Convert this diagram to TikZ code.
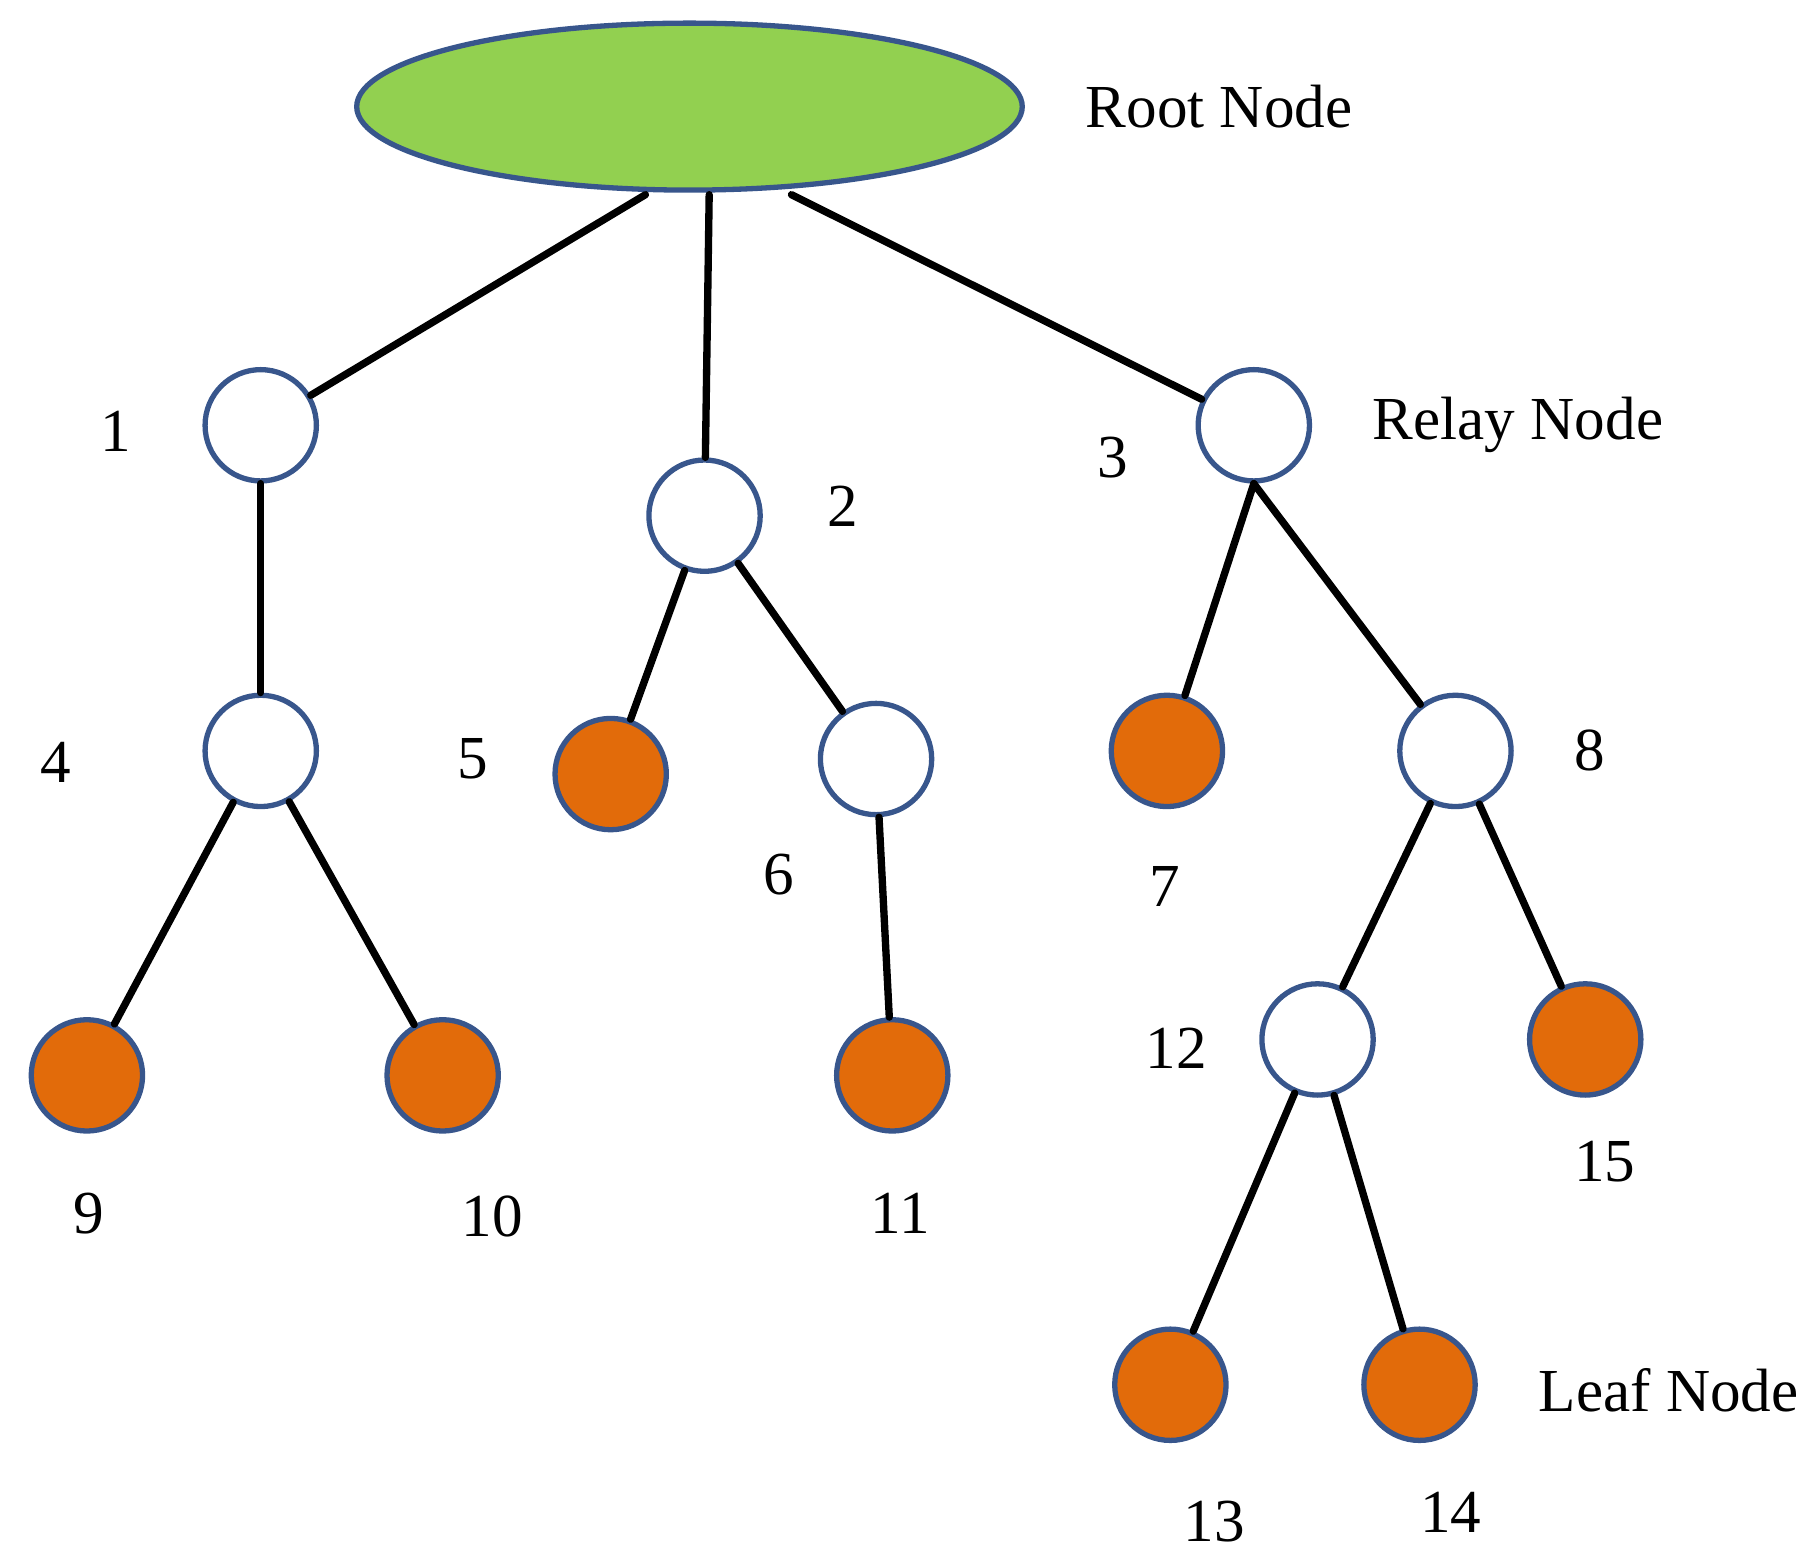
\documentclass[tikz,border=0pt]{standalone}
\usepackage{fontspec}
\setmainfont{Liberation Serif}
\usetikzlibrary{shapes.geometric}
\definecolor{rootgreen}{RGB}{146,208,80}
\definecolor{leaforange}{RGB}{226,107,10}
\definecolor{rimblue}{RGB}{56,86,140}
\begin{document}
\begin{tikzpicture}[x=0.01cm, y=-0.01cm, line cap=round, line join=round,
    font=\fontsize{15}{18}\selectfont,
    relay/.style={circle, draw=rimblue, line width=1.3pt, fill=white, minimum size=0.96cm, inner sep=0pt},
    leaf/.style={relay, fill=leaforange},
    edge/.style={line width=1.8pt}]
    \useasboundingbox (0,0) rectangle (1568,1351);

    % root
    \node[ellipse, draw=rimblue, line width=1.3pt, fill=rootgreen, minimum width=5.74cm, minimum height=1.44cm] (root) at (595,92) {};
    \node at (1052,92) {Root Node};
    \coordinate (r1) at (557,168);
    \coordinate (r2) at (612,168);
    \coordinate (r3) at (683,168);

    % relay nodes
    \node[relay] (n1) at (225,367) {};
    \node[relay] (n2) at (608,445) {};
    \node[relay] (n3) at (1082,367) {};
    \node[relay] (n4) at (225,648) {};
    \node[relay] (n6) at (756,655) {};
    \node[relay] (n8) at (1256,648) {};
    \node[relay] (n12) at (1137,897) {};

    % leaf nodes
    \node[leaf] (n5) at (527,668) {};
    \node[leaf] (n7) at (1007,648) {};
    \node[leaf] (n9) at (75,928) {};
    \node[leaf] (n10) at (382,928) {};
    \node[leaf] (n11) at (770,928) {};
    \node[leaf] (n13) at (1010,1195) {};
    \node[leaf] (n14) at (1225,1195) {};
    \node[leaf] (n15) at (1368,897) {};

    % labels
    \node (l1) at (100,372) {1};
    \node (l2) at (727,437) {2};
    \node (l3) at (960,395) {3};
    \node (l4) at (48,658) {4};
    \node (l5) at (408,655) {5};
    \node (l6) at (672,755) {6};
    \node (l7) at (1005,765) {7};
    \node (l8) at (1372,648) {8};
    \node (l9) at (77,1047) {9};
    \node (l10) at (425,1050) {10};
    \node (l11) at (777,1047) {11};
    \node (l12) at (1015,905) {12};
    \node (l13) at (1048,1313) {13};
    \node (l14) at (1252,1305) {14};
    \node (l15) at (1385,1002) {15};
    \node at (1310,367) {Relay Node};
    \node at (1440,1200) {Leaf Node};

    % edges
    \draw[edge] (r1) -- (n1);
    \draw[edge] (r2) -- (n2);
    \draw[edge] (r3) -- (n3);
    \draw[edge] (n1) -- (n4);
    \draw[edge] (n2) -- (n5);
    \draw[edge] (n2) -- (n6);
    \draw[edge] (n3.south) -- (n7);
    \draw[edge] (n3.south) -- (n8);
    \draw[edge] (n4) -- (n9);
    \draw[edge] (n4) -- (n10);
    \draw[edge] (n6) -- (n11);
    \draw[edge] (n8) -- (n12);
    \draw[edge] (n8) -- (n15);
    \draw[edge] (n12) -- (n13);
    \draw[edge] (n12) -- (n14);
\end{tikzpicture}
\end{document}
